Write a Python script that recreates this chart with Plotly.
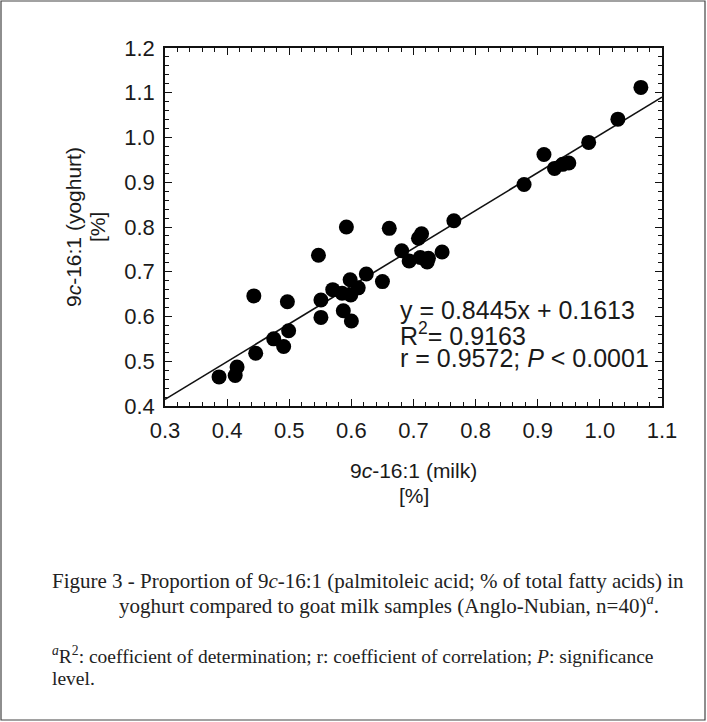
import plotly.graph_objects as go

# Data
milk = [0.387, 0.413, 0.416, 0.446, 0.443, 0.475, 0.491, 0.499, 0.497, 0.547,
        0.551, 0.551, 0.570, 0.587, 0.600, 0.598, 0.585, 0.599, 0.611, 0.624,
        0.592, 0.661, 0.765, 0.713, 0.708, 0.681, 0.693, 0.711, 0.724, 0.746,
        0.722, 0.650, 0.878, 0.910, 0.927, 0.940, 0.950, 0.982, 1.029, 1.066]
yoghurt = [0.465, 0.468, 0.487, 0.518, 0.646, 0.550, 0.533, 0.568, 0.633, 0.737,
           0.637, 0.598, 0.660, 0.613, 0.590, 0.682, 0.652, 0.648, 0.664, 0.695,
           0.800, 0.797, 0.814, 0.785, 0.775, 0.747, 0.724, 0.732, 0.730, 0.744,
           0.722, 0.678, 0.895, 0.962, 0.931, 0.940, 0.943, 0.989, 1.041, 1.112]
slope = 0.8445
intercept = 0.1613
x_range = [0.3, 1.1]
y_range = [0.4, 1.2]
x_ticks = [0.3, 0.4, 0.5, 0.6, 0.7, 0.8, 0.9, 1.0, 1.1]
y_ticks = [0.4, 0.5, 0.6, 0.7, 0.8, 0.9, 1.0, 1.1, 1.2]

W, H = 707, 722
L, R, T, B = 165, 662, 48, 406

def px(xp):
    return (xp - L) / (R - L)

def py(yp):
    return (B - yp) / (B - T)

SANS = "Liberation Sans, Arial, sans-serif"
SERIF = "Liberation Serif, Times New Roman, serif"
TXT = "#1a1a1a"

fig = go.Figure()
fig.add_trace(go.Scatter(
    x=x_range, y=[slope * v + intercept for v in x_range],
    mode="lines", line=dict(color="#111", width=1.6), showlegend=False,
    hoverinfo="skip"))
fig.add_trace(go.Scatter(
    x=milk, y=yoghurt, mode="markers",
    marker=dict(color="black", size=15), showlegend=False))

axis_common = dict(
    showgrid=False, zeroline=False, showline=True, linecolor="#111", linewidth=1.6,
    mirror="allticks", ticks="inside", ticklen=7, tickwidth=1.3, tickcolor="#111",
    tickfont=dict(family=SANS, size=22, color=TXT),
    ticklabelstandoff=4,
    minor=dict(ticks="inside", ticklen=4, tickwidth=1.1, tickcolor="#111", dtick=0.02),
)
fig.update_xaxes(range=x_range, tickvals=x_ticks,
                 ticktext=[f"{v:.1f}" for v in x_ticks], **axis_common)
fig.update_yaxes(range=y_range, tickvals=y_ticks,
                 ticktext=[f"{v:.1f}" for v in y_ticks], **axis_common)

ann = []
# axis titles (one annotation per line)
for t, yy in [("9<i>c</i>-16:1 (milk)", 470), ("[%]", 495)]:
    ann.append(dict(text=t, x=0.5, y=py(yy), xref="paper", yref="paper",
                    xanchor="center", yanchor="middle", showarrow=False,
                    font=dict(family=SANS, size=21, color=TXT)))
for t, xx in [("9<i>c</i>-16:1 (yoghurt)", 73), ("[%]", 97)]:
    ann.append(dict(text=t, x=px(xx), y=py(227), xref="paper", yref="paper",
                    xanchor="center", yanchor="middle", showarrow=False, textangle=-90,
                    font=dict(family=SANS, size=21, color=TXT)))
# equation text
eq_lines = ["y = 0.8445x + 0.1613", "R<sup>2</sup>= 0.9163", "r = 0.9572; <i>P</i> &lt; 0.0001"]
for i, t in enumerate(eq_lines):
    ann.append(dict(text=t, x=px(398), y=py(310 + 24 * i), xref="paper", yref="paper",
                    xanchor="left", yanchor="middle", showarrow=False,
                    font=dict(family=SANS, size=25, color=TXT)))
# caption
cap = [
    ("Figure 3 - Proportion of 9<i>c</i>-16:1 (palmitoleic acid; % of total fatty acids) in", 50, 581, 21),
    ("yoghurt compared to goat milk samples (Anglo-Nubian, n=40)<sup><i>a</i></sup>.", 117, 604, 21),
    ("<sup><i>a</i></sup>R<sup>2</sup>: coefficient of determination; r: coefficient of correlation; <i>P</i>: significance", 50, 655, 19.5),
    ("level.", 50, 678, 19.5),
]
for t, xx, yy, fs in cap:
    ann.append(dict(text=t, x=px(xx), y=py(yy), xref="paper", yref="paper",
                    xanchor="left", yanchor="middle", showarrow=False,
                    font=dict(family=SERIF, size=fs, color="#222")))

fig.update_layout(
    width=W, height=H, autosize=False,
    margin=dict(l=L, r=W - R, t=T, b=H - B, pad=0),
    paper_bgcolor="white", plot_bgcolor="white",
    annotations=ann,
    shapes=[dict(type="rect", xref="paper", yref="paper",
                 x0=px(1), x1=px(705), y0=py(720), y1=py(1),
                 line=dict(color="#444", width=1.2), layer="below")],
)

fig.write_html("out.html", config={"displayModeBar": False},
               post_script="document.body.style.margin='0px';document.body.style.overflow='hidden';")
